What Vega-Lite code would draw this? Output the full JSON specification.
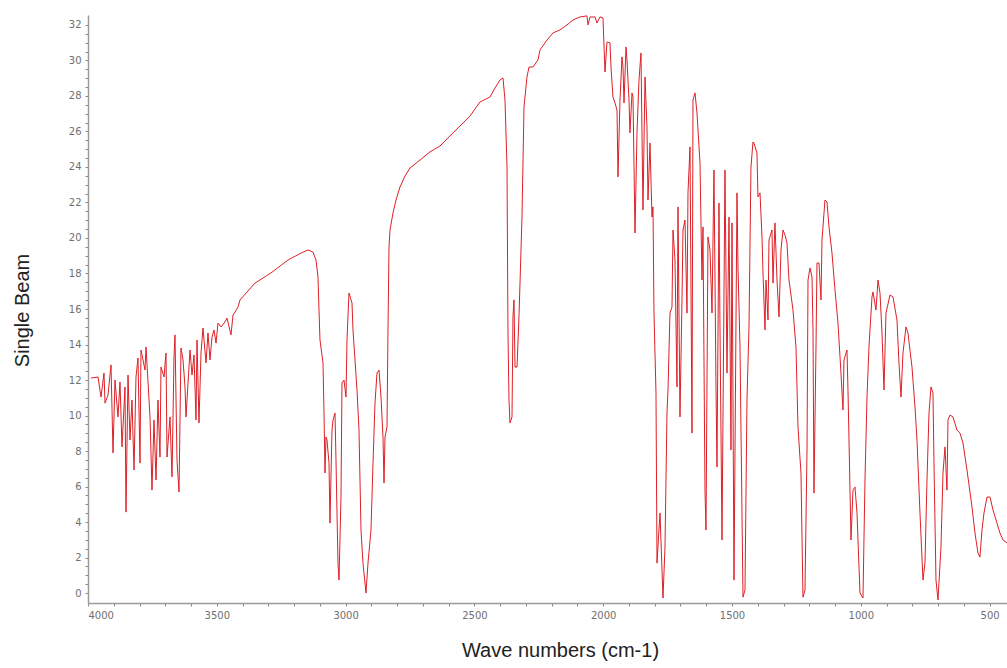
{
  "$schema": "https://vega.github.io/schema/vega-lite/v6.json",
  "width": 919,
  "height": 588,
  "autosize": {"type": "none"},
  "padding": {"left": 88, "top": 15, "right": 0, "bottom": 65},
  "background": "white",
  "config": {"view": {"stroke": null}},
  "data": {"values": [
    {"wn":3988.4,"beam":12.11},{"wn":3961.2,"beam":12.17},{"wn":3949.5,"beam":11.04},{"wn":3937.9,"beam":12.39},{"wn":3934.0,"beam":10.70},{"wn":3922.4,"beam":11.15},{"wn":3910.7,"beam":12.85},{"wn":3902.9,"beam":7.89},{"wn":3895.2,"beam":12.00},{"wn":3883.5,"beam":9.92},{"wn":3875.8,"beam":11.89},{"wn":3868.0,"beam":8.23},{"wn":3856.4,"beam":11.61},{"wn":3852.5,"beam":4.56},{"wn":3844.7,"beam":12.28},{"wn":3837.0,"beam":8.62},{"wn":3829.2,"beam":10.87},{"wn":3821.4,"beam":6.93},{"wn":3813.7,"beam":12.17},{"wn":3805.9,"beam":13.24},{"wn":3798.1,"beam":7.32},{"wn":3794.3,"beam":13.69},{"wn":3778.7,"beam":12.56},{"wn":3774.8,"beam":13.86},{"wn":3759.3,"beam":9.92},{"wn":3751.6,"beam":5.80},{"wn":3743.8,"beam":9.75},{"wn":3736.0,"beam":6.37},{"wn":3728.3,"beam":10.87},{"wn":3720.5,"beam":7.66},{"wn":3716.6,"beam":12.73},{"wn":3705.0,"beam":12.17},{"wn":3697.2,"beam":13.52},{"wn":3693.3,"beam":7.66},{"wn":3681.7,"beam":9.92},{"wn":3673.9,"beam":6.54},{"wn":3666.1,"beam":13.30},{"wn":3662.3,"beam":14.54},{"wn":3654.5,"beam":7.49},{"wn":3646.7,"beam":5.69},{"wn":3639.0,"beam":13.80},{"wn":3631.2,"beam":13.13},{"wn":3623.4,"beam":11.61},{"wn":3619.6,"beam":9.92},{"wn":3604.0,"beam":13.69},{"wn":3596.3,"beam":12.28},{"wn":3588.5,"beam":13.41},{"wn":3580.7,"beam":9.75},{"wn":3576.9,"beam":14.25},{"wn":3569.1,"beam":9.58},{"wn":3561.3,"beam":13.52},{"wn":3553.6,"beam":14.93},{"wn":3541.9,"beam":12.96},{"wn":3534.2,"beam":14.65},{"wn":3526.4,"beam":13.13},{"wn":3518.6,"beam":14.42},{"wn":3510.9,"beam":14.82},{"wn":3503.1,"beam":14.08},{"wn":3495.3,"beam":15.21},{"wn":3483.7,"beam":14.99},{"wn":3468.2,"beam":15.27},{"wn":3460.4,"beam":15.49},{"wn":3444.9,"beam":14.54},{"wn":3437.1,"beam":15.66},{"wn":3429.3,"beam":15.83},{"wn":3417.7,"beam":16.11},{"wn":3409.9,"beam":16.51},{"wn":3351.7,"beam":17.46},{"wn":3289.6,"beam":18.03},{"wn":3223.6,"beam":18.76},{"wn":3173.1,"beam":19.15},{"wn":3145.9,"beam":19.32},{"wn":3126.6,"beam":19.21},{"wn":3114.9,"beam":18.76},{"wn":3107.1,"beam":17.80},{"wn":3103.3,"beam":15.94},{"wn":3099.4,"beam":14.25},{"wn":3087.7,"beam":12.96},{"wn":3083.8,"beam":10.14},{"wn":3080.0,"beam":6.76},{"wn":3076.1,"beam":8.79},{"wn":3072.2,"beam":8.62},{"wn":3064.4,"beam":7.32},{"wn":3060.6,"beam":3.94},{"wn":3052.8,"beam":9.18},{"wn":3048.9,"beam":9.75},{"wn":3041.1,"beam":10.14},{"wn":3037.3,"beam":7.49},{"wn":3029.5,"beam":1.69},{"wn":3025.6,"beam":0.73},{"wn":3017.9,"beam":5.41},{"wn":3014.0,"beam":11.83},{"wn":3006.2,"beam":12.00},{"wn":2998.4,"beam":11.04},{"wn":2994.6,"beam":14.25},{"wn":2986.8,"beam":16.90},{"wn":2975.2,"beam":16.34},{"wn":2971.3,"beam":14.82},{"wn":2955.7,"beam":11.44},{"wn":2948.0,"beam":9.18},{"wn":2940.2,"beam":3.55},{"wn":2932.5,"beam":1.69},{"wn":2920.8,"beam":0.00},{"wn":2913.0,"beam":1.69},{"wn":2901.4,"beam":3.55},{"wn":2893.6,"beam":7.32},{"wn":2885.9,"beam":10.70},{"wn":2878.1,"beam":12.39},{"wn":2870.3,"beam":12.56},{"wn":2862.6,"beam":11.04},{"wn":2854.8,"beam":8.79},{"wn":2850.9,"beam":6.20},{"wn":2847.0,"beam":8.79},{"wn":2839.3,"beam":9.35},{"wn":2835.4,"beam":14.82},{"wn":2831.5,"beam":19.49},{"wn":2827.6,"beam":20.45},{"wn":2816.0,"beam":21.41},{"wn":2804.3,"beam":22.14},{"wn":2788.8,"beam":22.87},{"wn":2769.4,"beam":23.49},{"wn":2750.0,"beam":23.94},{"wn":2711.2,"beam":24.39},{"wn":2672.4,"beam":24.85},{"wn":2633.5,"beam":25.18},{"wn":2594.7,"beam":25.75},{"wn":2555.9,"beam":26.31},{"wn":2517.1,"beam":26.87},{"wn":2478.3,"beam":27.66},{"wn":2439.4,"beam":27.94},{"wn":2420.0,"beam":28.45},{"wn":2400.6,"beam":28.90},{"wn":2388.9,"beam":29.01},{"wn":2381.2,"beam":27.77},{"wn":2373.4,"beam":24.00},{"wn":2369.6,"beam":14.65},{"wn":2365.7,"beam":10.87},{"wn":2361.8,"beam":9.58},{"wn":2354.0,"beam":9.92},{"wn":2350.2,"beam":15.55},{"wn":2346.3,"beam":16.51},{"wn":2342.4,"beam":12.73},{"wn":2334.6,"beam":12.73},{"wn":2326.9,"beam":15.55},{"wn":2315.2,"beam":21.18},{"wn":2307.4,"beam":27.38},{"wn":2295.8,"beam":29.07},{"wn":2288.0,"beam":29.63},{"wn":2272.5,"beam":29.63},{"wn":2253.1,"beam":30.03},{"wn":2245.3,"beam":30.59},{"wn":2218.2,"beam":31.15},{"wn":2194.9,"beam":31.55},{"wn":2167.7,"beam":31.72},{"wn":2140.5,"beam":32.00},{"wn":2117.2,"beam":32.28},{"wn":2090.1,"beam":32.45},{"wn":2062.9,"beam":32.51},{"wn":2059.0,"beam":32.00},{"wn":2051.2,"beam":32.45},{"wn":2031.8,"beam":32.45},{"wn":2024.1,"beam":32.11},{"wn":2012.4,"beam":32.45},{"wn":2000.8,"beam":32.39},{"wn":1993.0,"beam":29.35},{"wn":1985.2,"beam":31.04},{"wn":1973.6,"beam":30.99},{"wn":1969.7,"beam":29.63},{"wn":1962.0,"beam":27.94},{"wn":1954.2,"beam":27.61},{"wn":1946.4,"beam":27.21},{"wn":1942.5,"beam":23.44},{"wn":1934.8,"beam":27.77},{"wn":1927.0,"beam":30.20},{"wn":1923.1,"beam":29.63},{"wn":1919.2,"beam":27.61},{"wn":1911.5,"beam":30.76},{"wn":1907.6,"beam":30.03},{"wn":1899.8,"beam":27.77},{"wn":1896.0,"beam":25.92},{"wn":1888.2,"beam":28.17},{"wn":1884.3,"beam":27.94},{"wn":1876.5,"beam":20.28},{"wn":1868.8,"beam":25.92},{"wn":1861.0,"beam":28.90},{"wn":1853.3,"beam":30.42},{"wn":1845.5,"beam":21.58},{"wn":1837.7,"beam":29.07},{"wn":1830.0,"beam":26.25},{"wn":1826.1,"beam":22.14},{"wn":1818.3,"beam":25.35},{"wn":1810.6,"beam":21.18},{"wn":1806.7,"beam":21.75},{"wn":1802.8,"beam":15.77},{"wn":1795.0,"beam":11.27},{"wn":1791.1,"beam":1.69},{"wn":1779.5,"beam":4.51},{"wn":1767.8,"beam":-0.28},{"wn":1760.1,"beam":2.59},{"wn":1752.3,"beam":10.14},{"wn":1748.4,"beam":11.44},{"wn":1740.7,"beam":15.77},{"wn":1732.9,"beam":16.11},{"wn":1729.0,"beam":20.45},{"wn":1721.3,"beam":18.76},{"wn":1713.5,"beam":11.61},{"wn":1709.6,"beam":21.75},{"wn":1701.9,"beam":9.92},{"wn":1694.1,"beam":16.51},{"wn":1690.2,"beam":20.45},{"wn":1682.4,"beam":21.01},{"wn":1674.7,"beam":15.77},{"wn":1670.8,"beam":22.54},{"wn":1663.0,"beam":25.13},{"wn":1655.3,"beam":9.01},{"wn":1651.4,"beam":27.77},{"wn":1643.6,"beam":28.17},{"wn":1635.9,"beam":27.04},{"wn":1624.2,"beam":24.23},{"wn":1616.5,"beam":17.63},{"wn":1612.6,"beam":20.62},{"wn":1604.8,"beam":5.80},{"wn":1600.9,"beam":3.55},{"wn":1593.2,"beam":20.06},{"wn":1585.4,"beam":19.32},{"wn":1577.6,"beam":15.77},{"wn":1569.9,"beam":23.83},{"wn":1562.1,"beam":11.61},{"wn":1558.2,"beam":7.10},{"wn":1550.5,"beam":21.97},{"wn":1546.6,"beam":14.99},{"wn":1538.8,"beam":2.99},{"wn":1527.2,"beam":23.83},{"wn":1519.4,"beam":12.39},{"wn":1511.6,"beam":21.18},{"wn":1503.9,"beam":8.06},{"wn":1500.0,"beam":20.85},{"wn":1492.2,"beam":0.73},{"wn":1480.6,"beam":22.54},{"wn":1476.7,"beam":18.37},{"wn":1468.9,"beam":13.86},{"wn":1457.3,"beam":-0.23},{"wn":1449.5,"beam":0.17},{"wn":1441.8,"beam":10.87},{"wn":1434.0,"beam":14.99},{"wn":1426.3,"beam":24.00},{"wn":1418.5,"beam":25.41},{"wn":1414.6,"beam":25.35},{"wn":1403.1,"beam":24.79},{"wn":1399.1,"beam":22.31},{"wn":1391.3,"beam":22.54},{"wn":1383.5,"beam":20.06},{"wn":1379.6,"beam":18.03},{"wn":1371.9,"beam":14.82},{"wn":1368.0,"beam":17.63},{"wn":1360.2,"beam":15.38},{"wn":1356.4,"beam":19.89},{"wn":1344.7,"beam":20.45},{"wn":1340.8,"beam":17.46},{"wn":1333.1,"beam":20.85},{"wn":1325.3,"beam":17.63},{"wn":1317.5,"beam":15.55},{"wn":1309.8,"beam":19.32},{"wn":1302.0,"beam":20.45},{"wn":1294.2,"beam":20.17},{"wn":1286.5,"beam":19.72},{"wn":1278.7,"beam":17.63},{"wn":1263.2,"beam":15.94},{"wn":1251.6,"beam":13.86},{"wn":1243.8,"beam":9.35},{"wn":1232.2,"beam":6.76},{"wn":1224.4,"beam":-0.23},{"wn":1216.6,"beam":0.17},{"wn":1208.8,"beam":8.06},{"wn":1204.9,"beam":17.63},{"wn":1197.2,"beam":18.31},{"wn":1189.4,"beam":17.80},{"wn":1185.5,"beam":14.82},{"wn":1181.7,"beam":5.63},{"wn":1173.9,"beam":13.86},{"wn":1170.0,"beam":18.59},{"wn":1162.3,"beam":18.59},{"wn":1154.5,"beam":16.51},{"wn":1150.6,"beam":19.89},{"wn":1139.0,"beam":22.14},{"wn":1131.2,"beam":22.03},{"wn":1123.4,"beam":20.62},{"wn":1111.8,"beam":19.15},{"wn":1100.1,"beam":17.07},{"wn":1088.5,"beam":15.21},{"wn":1076.9,"beam":12.39},{"wn":1069.1,"beam":10.31},{"wn":1065.2,"beam":13.13},{"wn":1053.6,"beam":13.69},{"wn":1049.7,"beam":11.44},{"wn":1038.0,"beam":2.99},{"wn":1030.3,"beam":5.80},{"wn":1022.5,"beam":5.97},{"wn":1014.7,"beam":4.51},{"wn":1003.1,"beam":0.00},{"wn":991.5,"beam":-0.28},{"wn":983.7,"beam":6.37},{"wn":975.9,"beam":11.04},{"wn":968.2,"beam":13.86},{"wn":956.5,"beam":16.68},{"wn":952.6,"beam":16.96},{"wn":941.0,"beam":15.94},{"wn":933.2,"beam":17.63},{"wn":925.4,"beam":16.90},{"wn":917.7,"beam":14.65},{"wn":909.9,"beam":11.44},{"wn":902.2,"beam":15.77},{"wn":886.6,"beam":16.79},{"wn":875.0,"beam":16.68},{"wn":859.5,"beam":15.38},{"wn":851.7,"beam":12.96},{"wn":843.9,"beam":11.04},{"wn":836.2,"beam":13.52},{"wn":824.5,"beam":14.99},{"wn":816.8,"beam":14.65},{"wn":801.2,"beam":12.73},{"wn":789.6,"beam":10.48},{"wn":781.8,"beam":8.62},{"wn":770.2,"beam":4.51},{"wn":758.5,"beam":0.73},{"wn":750.8,"beam":1.69},{"wn":743.0,"beam":6.37},{"wn":735.2,"beam":10.14},{"wn":727.5,"beam":11.61},{"wn":719.7,"beam":11.27},{"wn":715.8,"beam":7.32},{"wn":708.1,"beam":0.73},{"wn":700.3,"beam":-0.39},{"wn":688.7,"beam":2.59},{"wn":680.9,"beam":6.76},{"wn":673.1,"beam":8.23},{"wn":665.4,"beam":5.80},{"wn":661.5,"beam":9.75},{"wn":653.7,"beam":10.03},{"wn":642.1,"beam":9.92},{"wn":626.5,"beam":9.18},{"wn":614.9,"beam":9.01},{"wn":603.3,"beam":8.45},{"wn":587.7,"beam":6.93},{"wn":568.3,"beam":4.85},{"wn":556.7,"beam":3.38},{"wn":545.0,"beam":2.25},{"wn":537.3,"beam":2.03},{"wn":529.5,"beam":3.55},{"wn":521.7,"beam":4.51},{"wn":510.1,"beam":5.41},{"wn":498.4,"beam":5.41},{"wn":486.8,"beam":4.68},{"wn":471.3,"beam":3.94},{"wn":459.6,"beam":3.38},{"wn":448.0,"beam":2.99},{"wn":432.4,"beam":2.82}
  ]},
  "mark": {"type": "line", "color": "#dd1f26", "strokeWidth": 1, "clip": true},
  "encoding": {
    "x": {
      "field": "wn", "type": "quantitative",
      "scale": {"domain": [432.4, 4000], "reverse": true, "nice": false, "zero": false},
      "axis": {
        "title": "Wave numbers (cm-1)",
        "values": [4000,3900,3800,3700,3600,3500,3400,3300,3200,3100,3000,2900,2800,2700,2600,2500,2400,2300,2200,2100,2000,1900,1800,1700,1600,1500,1400,1300,1200,1100,1000,900,800,700,600,500],
        "labelExpr": "datum.value % 500 === 0 ? format(datum.value, 'd') : ''",
        "labelOverlap": false,
        "labelFont": "DejaVu Sans", "labelFontSize": 10, "labelColor": "#6f6f6f", "labelPadding": 4,
        "tickSize": 3, "tickColor": "#8a8a8a", "domainColor": "#9a9a9a", "domainWidth": 1.5,
        "grid": false,
        "titleFont": "Liberation Sans", "titleFontSize": 20, "titleFontWeight": "normal", "titleColor": "#222222",
        "titleX": 472, "titleY": 47, "titleAlign": "center", "titleBaseline": "middle"
      }
    },
    "y": {
      "field": "beam", "type": "quantitative",
      "scale": {"domain": [-0.56, 32.56], "nice": false, "zero": false},
      "axis": {
        "title": "Single Beam",
        "values": [0,0.5,1,1.5,2,2.5,3,3.5,4,4.5,5,5.5,6,6.5,7,7.5,8,8.5,9,9.5,10,10.5,11,11.5,12,12.5,13,13.5,14,14.5,15,15.5,16,16.5,17,17.5,18,18.5,19,19.5,20,20.5,21,21.5,22,22.5,23,23.5,24,24.5,25,25.5,26,26.5,27,27.5,28,28.5,29,29.5,30,30.5,31,31.5,32],
        "labelExpr": "datum.value % 2 === 0 ? format(datum.value, 'd') : ''",
        "labelOverlap": false,
        "labelFont": "DejaVu Sans", "labelFontSize": 10, "labelColor": "#6f6f6f", "labelPadding": 4,
        "tickSize": 3, "tickColor": "#8a8a8a", "domainColor": "#9a9a9a", "domainWidth": 1.5,
        "grid": false,
        "titleFont": "Liberation Sans", "titleFontSize": 20, "titleFontWeight": "normal", "titleColor": "#222222",
        "titleX": -66, "titleY": 295, "titleAngle": -90, "titleAlign": "center", "titleBaseline": "middle"
      }
    }
  }
}
